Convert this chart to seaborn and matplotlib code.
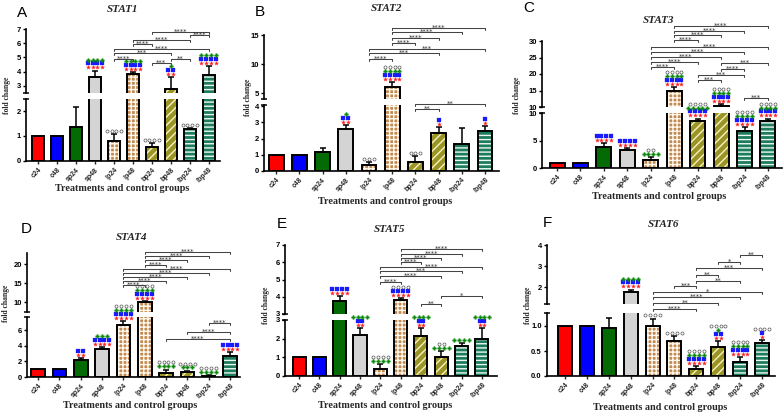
import numpy as np
import pandas as pd
import matplotlib
matplotlib.use("Agg")
import matplotlib.pyplot as plt
import seaborn as sns
from matplotlib.ticker import FormatStrFormatter

sns.set_style("white")
plt.rcParams['font.family'] = ['Liberation Sans', 'DejaVu Sans']
plt.rcParams['hatch.linewidth'] = 1.0

# ---------------- data ----------------
groups = ["c24", "c48", "sp24", "sp48", "lp24", "lp48", "bp24", "bp48", "ibp24", "ibp48"]
genes = ["STAT1", "STAT2", "STAT3", "STAT4", "STAT5", "STAT6"]
letters = ["A", "B", "C", "D", "E", "F"]

stat1_mean = [1.0, 1.0, 1.37, 3.63, 0.80, 3.85, 0.56, 2.78, 1.27, 3.77]
stat1_err = [0, 0, 0.78, 0.45, 0.27, 0.12, 0.16, 0.82, 0.05, 0.60]
stat2_mean = [1.0, 1.0, 1.17, 2.60, 0.37, 6.10, 0.57, 2.33, 1.65, 2.45]
stat2_err = [0, 0, 0.23, 0.24, 0.18, 0.80, 0.33, 0.37, 1.02, 0.32]
stat3_mean = [1.0, 1.0, 3.8, 3.3, 1.45, 14.8, 8.6, 10.3, 6.7, 8.6]
stat3_err = [0, 0, 0.7, 0.3, 0.55, 1.2, 0.4, 0.6, 0.7, 0.4]
stat4_mean = [1.0, 1.0, 2.15, 3.55, 6.7, 10.0, 0.5, 0.7, 0.15, 2.65]
stat4_err = [0, 0, 0.3, 0.3, 0.5, 0.2, 0.45, 0.12, 0.1, 0.5]
stat5_mean = [1.0, 1.0, 3.75, 2.2, 0.38, 3.8, 2.15, 1.0, 1.6, 2.0]
stat5_err = [0, 0, 0.3, 0.35, 0.27, 0.1, 0.4, 0.35, 0.15, 0.55]
stat6_mean = [1.0, 1.0, 0.96, 1.78, 1.0, 0.70, 0.14, 0.58, 0.28, 0.66]
stat6_err = [0, 0, 0.2, 0.12, 0.15, 0.10, 0.06, 0.12, 0.10, 0.06]

# significance symbols above each bar: (red, blue, green, circle) counts
stat1_marks = [(0,0,0,0),(0,0,0,0),(0,0,0,0),(4,4,4,0),(0,0,0,4),(4,4,4,0),(0,0,0,4),(2,2,1,0),(0,0,0,4),(4,4,4,0)]
stat2_marks = [(0,0,0,0),(0,0,0,0),(0,0,0,0),(2,2,1,0),(0,0,0,3),(4,4,4,4),(0,0,0,3),(1,1,0,0),(0,0,0,0),(1,1,0,0)]
stat3_marks = [(0,0,0,0),(0,0,0,0),(4,4,0,0),(4,4,0,0),(0,0,4,2),(4,4,4,4),(4,4,5,4),(4,4,4,4),(4,4,4,4),(4,4,4,4)]
stat4_marks = [(0,0,0,0),(0,0,0,0),(2,2,0,0),(4,4,3,0),(4,4,4,4),(4,4,4,4),(0,0,4,4),(0,0,3,4),(0,0,4,4),(4,4,0,0)]
stat5_marks = [(0,0,0,0),(0,0,0,0),(4,4,0,0),(2,2,4,0),(0,0,4,4),(4,4,0,4),(2,2,4,0),(0,0,4,2),(0,0,4,0),(2,2,4,0)]
stat6_marks = [(0,0,0,0),(0,0,0,0),(0,0,0,0),(4,4,4,0),(0,0,0,4),(0,0,0,4),(4,4,4,4),(2,2,1,4),(4,4,4,4),(1,1,0,4)]

# pairwise comparisons: (bar a, bar b, label)
stat1_pairs = [(6,9,"****"),(8,9,"****"),(5,8,"****"),(5,6,"****"),(4,9,"****"),(4,7,"***"),(4,5,"****"),(6,7,"***"),(7,8,"**")]
stat2_pairs = [(5,9,"****"),(5,8,"****"),(5,7,"****"),(5,6,"****"),(4,9,"***"),(4,7,"***"),(4,5,"****"),(6,9,"**"),(6,7,"**")]
stat3_pairs = [(5,9,"****"),(5,8,"****"),(5,7,"****"),(5,6,"****"),(4,9,"****"),(4,8,"****"),(4,7,"****"),(4,6,"****"),(4,5,"****"),
               (7,9,"***"),(7,8,"****"),(6,8,"***"),(6,7,"***"),(8,9,"***")]
stat4_pairs = [(5,9,"****"),(5,8,"****"),(5,7,"****"),(5,6,"****"),(4,9,"****"),(4,8,"****"),(4,7,"****"),(4,6,"****"),(4,5,"****"),
               (8,9,"****"),(7,9,"****"),(6,9,"****")]
stat5_pairs = [(5,9,"****"),(5,8,"****"),(5,7,"****"),(5,6,"****"),(4,9,"****"),(4,8,"***"),(4,7,"****"),(4,5,"****"),(7,9,"*"),(6,7,"**")]
stat6_pairs = [(8,9,"**"),(7,8,"*"),(6,9,"***"),(6,7,"**"),(6,8,"**"),(5,6,"***"),(4,9,"*"),(4,8,"****"),(4,7,"**"),(4,6,"****")]

means = [stat1_mean, stat2_mean, stat3_mean, stat4_mean, stat5_mean, stat6_mean]
errs = [stat1_err, stat2_err, stat3_err, stat4_err, stat5_err, stat6_err]
marks = [stat1_marks, stat2_marks, stat3_marks, stat4_marks, stat5_marks, stat6_marks]
pairs = [stat1_pairs, stat2_pairs, stat3_pairs, stat4_pairs, stat5_pairs, stat6_pairs]

# ---------------- styling / layout (pixels) ----------------
bar_colors = ["#ff0000", "#0000ff", "#046b04", "#d4d4d4", "#c08a52", "#c08a52",
              "#9a9426", "#9a9426", "#1d7c5c", "#1d7c5c"]
hatches = ["", "", "", "", "++++", "++++", "////", "////", "----", "----"]
hatch_cols = ["none", "none", "none", "none", "#fff8ee", "#fff8ee", "#f6f3c0", "#f6f3c0", "#eef8f3", "#eef8f3"]

layouts = [
    dict(x0=26, x1=220, up=(29, 93), lo=(99, 161), xlim=(-0.65, 9.6), uy=(2.5, 7), ly=(0, 2.48),
         ut=[3, 4, 5, 6, 7], lt=[0, 1, 2], letter=(22, 13), title=(123, 9), xlab=(122, 188), ylab=(7, 95),
         bh=[32, 35, 40, 44, 49, 53, 59, 63, 59], fmt=None),
    dict(x0=264, x1=499, up=(35, 99), lo=(105, 171), xlim=(-0.52, 9.6), uy=(3.97, 15), ly=(0, 4.07),
         ut=[5, 10, 15], lt=[0, 1, 2, 3, 4], letter=(260, 12), title=(387, 8), xlab=(385, 201), ylab=(248, 97),
         bh=[28, 32, 38, 43, 49, 53, 59, 104, 109], fmt=None),
    dict(x0=542, x1=782, up=(41, 107), lo=(113, 168), xlim=(-0.64, 9.6), uy=(10, 30), ly=(0, 10),
         ut=[10, 15, 20, 25, 30], lt=[0, 5, 10], letter=(529, 8), title=(659, 20), xlab=(659, 196), ylab=(517, 95),
         bh=[26, 31, 35, 40, 47, 52, 57, 62, 67, 63, 69, 75, 80, 98], fmt=None),
    dict(x0=27, x1=240, up=(253, 312), lo=(317, 377), xlim=(-0.52, 9.47), uy=(7.4, 22.9), ly=(0, 7.7),
         ut=[10, 15, 20], lt=[0, 2, 4, 6], letter=(26, 229), title=(132, 237), xlab=(130, 406), ylab=(6, 303),
         bh=[252, 256, 260, 265, 269, 273, 277, 281, 285, 323, 332, 339], fmt=None),
    dict(x0=285, x1=497, up=(245, 314), lo=(320, 376), xlim=(-0.69, 9.74), uy=(3, 7), ly=(0, 3),
         ut=[3, 4, 5, 6, 7], lt=[0, 1, 2, 3], letter=(282, 224), title=(390, 229), xlab=(385, 406), ylab=(266, 305),
         bh=[249, 254, 258, 262, 267, 271, 276, 282, 296, 304], fmt=None),
    dict(x0=547, x1=775, up=(245, 304), lo=(313, 376), xlim=(-0.82, 9.59), uy=(1.22, 4), ly=(0, 1.26),
         ut=[2, 3, 4], lt=[0, 0.5, 1.0], letter=(547, 223), title=(664, 224), xlab=(660, 407), ylab=(528, 305),
         bh=[255, 262, 268, 275, 281, 286, 292, 297, 303, 309], fmt="%.1f"),
]

W, H = 784, 412
fig = plt.figure(figsize=(W / 100, H / 100), dpi=100)


def rect(x0, x1, yt, yb):
    return [x0 / W, 1 - yb / H, (x1 - x0) / W, (yb - yt) / H]


ov = fig.add_axes([0, 0, 1, 1], zorder=10)
ov.set_xlim(0, W)
ov.set_ylim(H, 0)
ov.axis("off")

BW = 0.64
mark_style = [
    dict(marker="*", ms=3.0, mfc="#ff1a1a", mec="#ff1a1a", mew=0.2),
    dict(marker="s", ms=2.2, mfc="#1a1aff", mec="#1a1aff", mew=0.2),
    dict(marker="P", ms=2.8, mfc="#0c8a0c", mec="#0c8a0c", mew=0.2),
    dict(marker="o", ms=2.2, mfc="white", mec="#555555", mew=0.5),
]

for k in range(6):
    L = layouts[k]
    mean = np.array(means[k], dtype=float)
    err = np.array(errs[k], dtype=float)
    df = pd.DataFrame({"group": groups, "value": mean})
    axu = fig.add_axes(rect(L["x0"], L["x1"], *L["up"]))
    axl = fig.add_axes(rect(L["x0"], L["x1"], *L["lo"]))
    for ax, lim in ((axu, L["uy"]), (axl, L["ly"])):
        sns.barplot(data=df, x="group", y="value", hue="group", palette=bar_colors, legend=False,
                    errorbar=None, width=BW, saturation=1, linewidth=0, ax=ax)
        bars = list(ax.patches)
        for p, h, hc in zip(bars, hatches, hatch_cols):
            if h:
                p.set_hatch(h)
                p.set_edgecolor(hc)
            p.set_linewidth(0)
        sns.barplot(data=df, x="group", y="value", errorbar=None, width=BW, fill=False,
                    color="black", linewidth=1.4, ax=ax)
        # error bars only where they reach into this axis part
        top = mean + err
        sel = (err > 0) & (top > lim[0]) & (mean < lim[1])
        idx = np.arange(10)[sel]
        if len(idx):
            ax.errorbar(idx, mean[sel], yerr=[np.zeros(len(idx)), err[sel]], fmt="none", ecolor="black",
                        elinewidth=1.1, capsize=2.3, capthick=1.1)
        ax.set_xlim(*L["xlim"])
        ax.set_xlabel("")
        ax.set_ylabel("")
        ax.set_facecolor("none")
        for s in ["top", "right"]:
            ax.spines[s].set_visible(False)
        ax.spines["left"].set_linewidth(1.2)
        ax.spines["left"].set_color("black")
        ax.tick_params(axis="y", length=2.5, width=1, labelsize=5.5, pad=1.2, left=True, colors="black")
    axu.set_ylim(*L["uy"])
    axl.set_ylim(*L["ly"])
    axu.set_yticks(L["ut"])
    axl.set_yticks(L["lt"])
    if L["fmt"]:
        axl.yaxis.set_major_formatter(FormatStrFormatter(L["fmt"]))
    axu.spines["bottom"].set_visible(False)
    axu.tick_params(axis="x", bottom=False, labelbottom=False)
    axl.spines["bottom"].set_linewidth(1.2)
    axl.spines["bottom"].set_color("black")
    axl.set_xticks(range(10))
    axl.set_xticklabels(groups, rotation=45, ha="right", rotation_mode="anchor", fontweight="bold")
    axl.tick_params(axis="x", length=2.5, width=1, labelsize=5, pad=1.5, bottom=True)
    for ax in (axu, axl):
        for lab in ax.get_yticklabels():
            lab.set_fontweight("bold")

    # break marks
    for yb in (L["up"][1], L["lo"][0]):
        ov.plot([L["x0"] - 3, L["x0"] + 3], [yb, yb], color="black", lw=1.1, solid_capstyle="butt")

    def bar_px(i, v):
        ax = axl if v <= L["ly"][1] else axu
        X, Y = ax.transData.transform((i, v))
        return X, H - Y

    # symbols above bars
    for i in range(10):
        X, Y = bar_px(i, mean[i] + err[i])
        row = 0
        for kind, n in enumerate(marks[k][i]):
            if n == 0:
                continue
            yy = Y - 3.2 - 3.9 * row
            xs = [X + (m - (n - 1) / 2) * 4.8 for m in range(n)]
            ov.plot(xs, [yy] * n, ls="none", **mark_style[kind])
            row += 1

    # comparison brackets
    for (a, b, lab), yb in zip(pairs[k], L["bh"]):
        xa = axl.transData.transform((a, 0))[0]
        xb = axl.transData.transform((b, 0))[0]
        ov.plot([xa, xa, xb, xb], [yb + 2, yb, yb, yb + 2], color="#444444", lw=0.75)
        ov.text((xa + xb) / 2, yb + 1.3, lab, ha="center", va="baseline", fontsize=5,
                color="#333333", family="DejaVu Sans")

    # texts
    ov.text(*L["letter"], letters[k], ha="center", va="center", fontsize=11, color="black")
    ov.text(*L["title"], genes[k], ha="center", va="center", fontsize=8, family="Liberation Serif",
            fontweight="bold", fontstyle="italic")
    ov.text(*L["xlab"], "Treatments and control groups", ha="center", va="center", fontsize=7.3,
            family="Liberation Serif", fontweight="bold")
    ov.text(*L["ylab"], "fold change", ha="center", va="center", rotation=90, fontsize=5.5,
            family="Liberation Serif", fontweight="bold")

fig.savefig("out.png", dpi=100, facecolor="white")
